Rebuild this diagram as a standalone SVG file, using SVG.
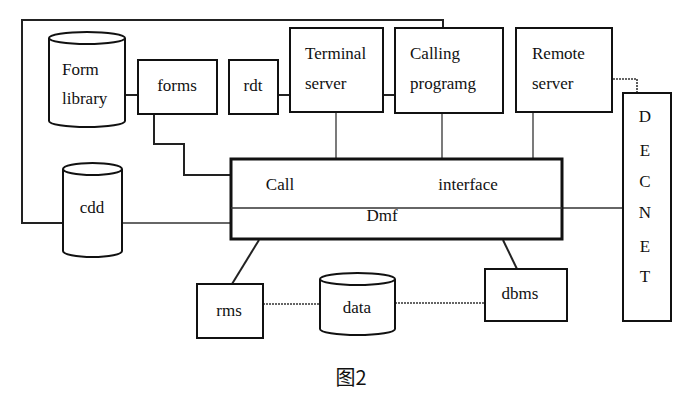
<svg xmlns="http://www.w3.org/2000/svg" width="686" height="419" viewBox="0 0 686 419">
<style>
.box{fill:#fff;stroke:#111;stroke-width:2}
.thick{fill:#fff;stroke:#111;stroke-width:3}
.ln{fill:none;stroke:#222;stroke-width:2}
.thin{fill:none;stroke:#333;stroke-width:1.3}
.dot{fill:none;stroke:#333;stroke-width:1.6;stroke-dasharray:2 1}
.t{font-family:"Liberation Serif","Times New Roman",serif;font-size:17px;fill:#111}
.cap{font-family:"Noto Sans CJK SC","Noto Sans",sans-serif;font-size:20px;fill:#111}
</style>
<rect width="686" height="419" fill="#fff"/>
<g id="connectors">
<path class="ln" d="M443,28 V20 H22 V223 H63"/>
<path class="thin" d="M122,223 H231"/>
<path class="ln" d="M125,95 H138"/>
<path class="ln" d="M278,95 H290"/>
<path class="ln" d="M383,95 H395"/>
<path class="ln" d="M154,114 V144 H184 V175 H231"/>
<path class="thin" d="M336,112 V159"/>
<path class="thin" d="M442,113 V159"/>
<path class="thin" d="M533,112 V159"/>
<path class="dot" d="M613,79 H637 V93"/>
<path class="thin" d="M562,208 H623"/>
<path class="ln" d="M259,240 L232,284"/>
<path class="ln" d="M503,240 L517,269"/>
<path class="dot" d="M263,304 H320"/>
<path class="dot" d="M395,303 H485"/>
</g>
<g id="form-library">
<path class="box" d="M49,38 V121 A38,6 0 0 0 125,121 V38"/>
<ellipse class="box" cx="87" cy="38" rx="38" ry="6"/>
<text class="t" x="62" y="75">Form</text>
<text class="t" x="62" y="104">library</text>
</g>
<g id="forms">
<rect class="box" x="138" y="60" width="79" height="54"/>
<text class="t" x="177" y="91" text-anchor="middle">forms</text>
</g>
<g id="rdt">
<rect class="box" x="229" y="60" width="49" height="54"/>
<text class="t" x="253" y="91" text-anchor="middle">rdt</text>
</g>
<g id="terminal-server">
<rect class="box" x="290" y="28" width="93" height="84"/>
<text class="t" x="305" y="59">Terminal</text>
<text class="t" x="305" y="89">server</text>
</g>
<g id="calling-programg">
<rect class="box" x="395" y="28" width="108" height="85"/>
<text class="t" x="410" y="59">Calling</text>
<text class="t" x="410" y="89">programg</text>
</g>
<g id="remote-server">
<rect class="box" x="516" y="28" width="96" height="84"/>
<text class="t" x="532" y="59">Remote</text>
<text class="t" x="532" y="89">server</text>
</g>
<g id="decnet">
<rect class="box" x="623" y="93" width="48" height="228"/>
<text class="t" text-anchor="middle" x="645" y="122">D</text>
<text class="t" text-anchor="middle" x="645" y="156">E</text>
<text class="t" text-anchor="middle" x="645" y="187">C</text>
<text class="t" text-anchor="middle" x="645" y="218">N</text>
<text class="t" text-anchor="middle" x="645" y="252">E</text>
<text class="t" text-anchor="middle" x="645" y="282">T</text>
</g>
<g id="cdd">
<path class="box" d="M63,169 V251 A29.5,6 0 0 0 122,251 V169"/>
<ellipse class="box" cx="92.5" cy="169" rx="29.5" ry="6"/>
<text class="t" x="92" y="213" text-anchor="middle">cdd</text>
</g>
<g id="call-interface">
<rect class="thick" x="231" y="159" width="331" height="80"/>
<line class="thin" x1="231" y1="208" x2="562" y2="208"/>
<text class="t" x="280" y="190" text-anchor="middle">Call</text>
<text class="t" x="468" y="190" text-anchor="middle">interface</text>
<text class="t" x="382" y="221" text-anchor="middle">Dmf</text>
</g>
<g id="rms">
<rect class="box" x="197" y="284" width="66" height="54"/>
<text class="t" x="229" y="316" text-anchor="middle">rms</text>
</g>
<g id="data">
<path class="box" d="M320,279 V329 A37.5,6 0 0 0 395,329 V279"/>
<ellipse class="box" cx="357.5" cy="279" rx="37.5" ry="6"/>
<text class="t" x="357" y="313" text-anchor="middle">data</text>
</g>
<g id="dbms">
<rect class="box" x="485" y="269" width="82" height="52"/>
<text class="t" x="520" y="299" text-anchor="middle">dbms</text>
</g>
<text class="cap" x="351" y="385" text-anchor="middle">图2</text>
</svg>
